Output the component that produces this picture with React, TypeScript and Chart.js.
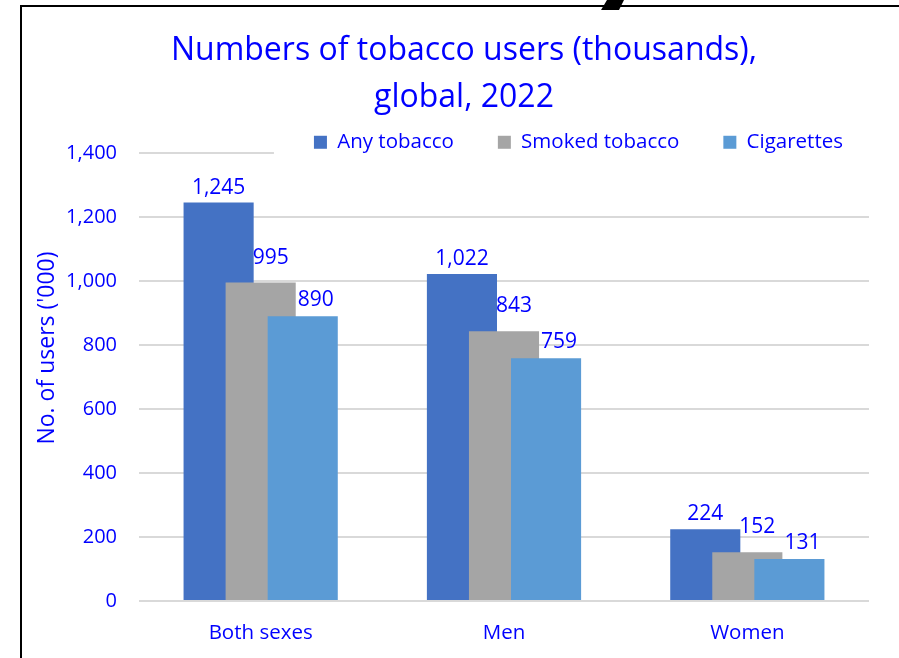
import React, { useEffect, useRef } from 'react';
import { Chart, registerables } from 'chart.js';

Chart.register(...registerables);

// ---- data ----
const categories = ['Both sexes', 'Men', 'Women'];
const seriesNames = ['Any tobacco', 'Smoked tobacco', 'Cigarettes'];
const anyTobacco = [1245, 1022, 224];
const smokedTobacco = [995, 843, 152];
const cigarettes = [890, 759, 131];
const yTicks = [0, 200, 400, 600, 800, 1000, 1200, 1400];
const chartTitle = ['Numbers of tobacco users (thousands),', 'global, 2022'];
const yAxisTitle = "No. of users ('000)";

// ---- styles ----
const BLUE = '#0000ff';
const FONT = '"Open Sans", Lato, sans-serif';
const seriesColors = ['#4472c4', '#a5a5a5', '#5b9bd5'];
const labelOffsets = [
  { dx: 0, dy: 9 },
  { dx: 10, dy: 19 },
  { dx: 13, dy: 10 },
];

const fmt = (v: number) => v.toLocaleString('en-US');

const customPlugin = {
  id: 'customDraw',
  afterLayout(chart: any) {
    const lg = chart.legend;
    if (lg) {
      lg.right = chart.width - 12;
      lg.width = lg.right - lg.left;
    }
    const tb = chart.titleBlock;
    if (tb) {
      tb.left = 29;
      tb.right = chart.width;
      tb.width = tb.right - tb.left;
    }
  },
  beforeDatasetsDraw(chart: any) {
    // white legend box hides the top gridline under it
    const lg = chart.legend;
    const ctx = chart.ctx;
    const y = chart.chartArea.top;
    const x0 = lg.right - lg.lineWidths[0] - 40;
    ctx.save();
    ctx.fillStyle = '#ffffff';
    ctx.fillRect(x0, y - 3, chart.chartArea.right - x0 + 2, 6);
    ctx.beginPath();
    ctx.rect(x0, y - 3, chart.chartArea.right - x0 + 2, 6);
    ctx.clip();
    lg.draw();
    ctx.restore();
  },
  beforeDatasetDraw() {
    return false;
  },
  afterDatasetsDraw(chart: any) {
    const ctx = chart.ctx;
    const n = chart.data.datasets.length;
    // draw series in order so later series sit on top of earlier ones
    for (let i = 0; i < n; i++) {
      const meta = chart.getDatasetMeta(i);
      if (!meta.hidden) meta.controller.draw();
    }
    ctx.save();
    ctx.fillStyle = BLUE;
    ctx.font = `21px ${FONT}`;
    ctx.textAlign = 'center';
    ctx.textBaseline = 'alphabetic';
    for (let i = 0; i < n; i++) {
      const meta = chart.getDatasetMeta(i);
      const ds = chart.data.datasets[i];
      const off = labelOffsets[i];
      meta.data.forEach((bar: any, j: number) => {
        ctx.fillText(fmt(ds.data[j]), bar.x + off.dx, bar.y - off.dy);
      });
    }
    ctx.restore();
  },
  afterDraw(chart: any) {
    const ctx = chart.ctx;
    ctx.save();
    // y axis title
    ctx.translate(47, 348);
    ctx.rotate(-Math.PI / 2);
    ctx.fillStyle = BLUE;
    ctx.font = `23px ${FONT}`;
    ctx.textAlign = 'center';
    ctx.textBaseline = 'middle';
    ctx.fillText(yAxisTitle, 0, 0);
    ctx.restore();
    // frame
    ctx.save();
    ctx.fillStyle = '#000000';
    ctx.fillRect(20, 5, chart.width - 20, 2);
    ctx.fillRect(20, 5, 2, chart.height - 5);
    ctx.beginPath();
    ctx.moveTo(607, 0);
    ctx.lineTo(624, 0);
    ctx.lineTo(619, 10);
    ctx.lineTo(601, 10);
    ctx.closePath();
    ctx.fill();
    ctx.restore();
  },
};

export default function App() {
  const ref = useRef<HTMLCanvasElement>(null);
  useEffect(() => {
    if (!ref.current) return;
    const chart = new Chart(ref.current, {
      type: 'bar',
      data: {
        labels: categories,
        datasets: [anyTobacco, smokedTobacco, cigarettes].map((d, i) => ({
          label: seriesNames[i],
          data: d,
          backgroundColor: seriesColors[i],
          borderWidth: 0,
          categoryPercentage: 0.5185,
          barPercentage: 1.667,
        })),
      },
      options: {
        responsive: false,
        animation: false,
        devicePixelRatio: 1,
        layout: { padding: { left: 0, right: 30, top: 0, bottom: 0 } },
        scales: {
          x: {
            grid: { display: false },
            border: { display: false },
            ticks: { color: BLUE, font: { family: FONT, size: 20.5 }, padding: 12 },
            afterFit: (s: any) => {
              s.height = 57;
            },
          },
          y: {
            min: 0,
            max: 1400,
            afterBuildTicks: (s: any) => {
              s.ticks = yTicks.map((v) => ({ value: v }));
            },
            grid: { color: '#d9d9d9', lineWidth: 2, drawTicks: false },
            border: { display: false },
            ticks: {
              color: BLUE,
              font: { family: FONT, size: 20 },
              padding: 22,
              callback: (v: any) => fmt(Number(v)),
            },
            afterFit: (s: any) => {
              s.width = 139;
            },
          },
        },
        plugins: {
          title: {
            display: true,
            text: chartTitle,
            color: BLUE,
            font: { family: FONT, size: 32, weight: 'normal', lineHeight: 1.48 },
            padding: { top: 27, bottom: -33.7 },
          },
          legend: {
            position: 'top',
            align: 'end',
            maxHeight: 65,
            labels: {
              boxWidth: 13,
              boxHeight: 13,
              padding: 44,
              color: BLUE,
              font: { family: FONT, size: 20.5 },
            },
          },
          tooltip: { enabled: false },
        },
      },
      plugins: [customPlugin],
    });
    return () => chart.destroy();
  }, []);
  return (
    <div style={{ position: 'fixed', left: 0, top: 0, width: 899, height: 658, background: '#fff' }}>
      <canvas ref={ref} width={899} height={658} />
    </div>
  );
}
